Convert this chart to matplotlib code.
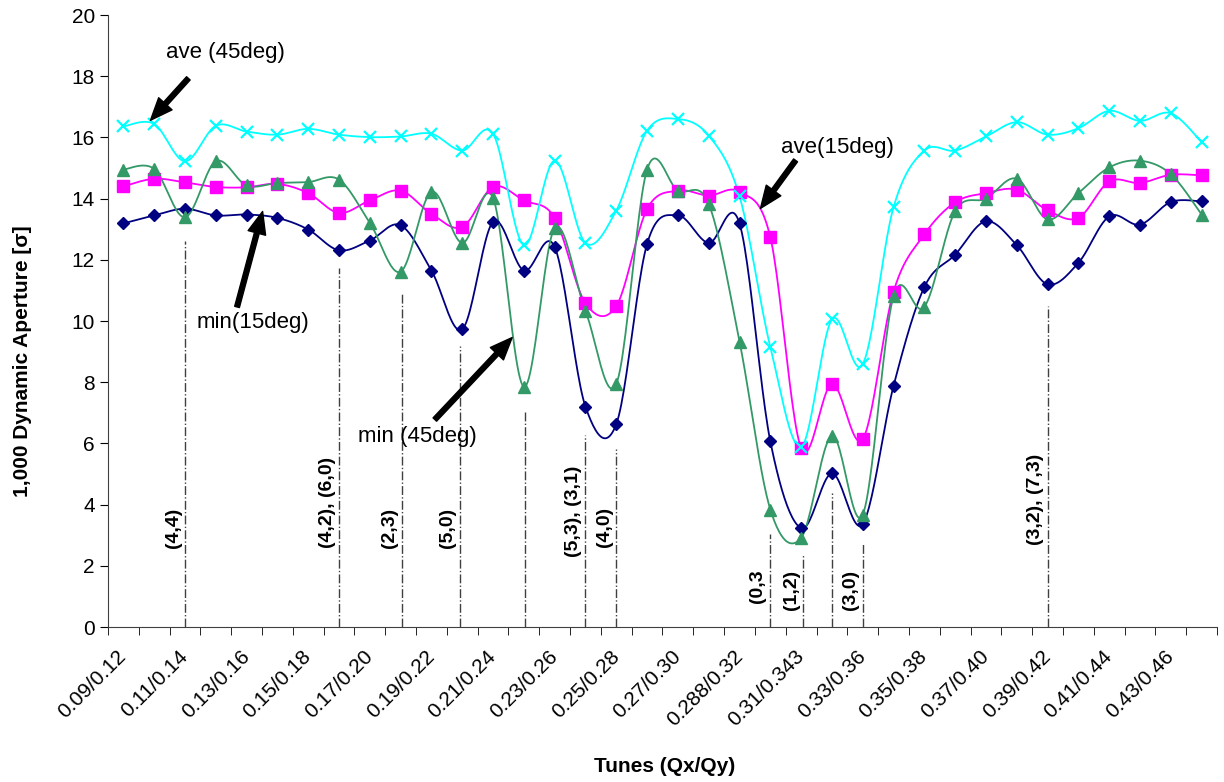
import numpy as np
import matplotlib
matplotlib.use("Agg")
import matplotlib.pyplot as plt
import matplotlib.transforms as mtransforms

plt.rcParams['font.family'] = ['Liberation Sans', 'DejaVu Sans']

# tune labels (every second working point is labelled)
tune_labels = ["0.09/0.12", "0.11/0.14", "0.13/0.16", "0.15/0.18", "0.17/0.20",
               "0.19/0.22", "0.21/0.24", "0.23/0.26", "0.25/0.28", "0.27/0.30",
               "0.288/0.32", "0.31/0.343", "0.33/0.36", "0.35/0.38", "0.37/0.40",
               "0.39/0.42", "0.41/0.44", "0.43/0.46"]
n_points = 36

# dynamic aperture in sigma
ave_45 = [16.36, 16.44, 15.22, 16.38, 16.19, 16.09, 16.28, 16.09, 16.01, 16.03, 16.12, 15.57,
          16.12, 12.48, 15.24, 12.55, 13.61, 16.22, 16.60, 16.06, 14.08, 9.15, 5.89, 10.05,
          8.59, 13.72, 15.57, 15.57, 16.03, 16.50, 16.09, 16.30, 16.87, 16.54, 16.79, 15.85]
ave_15 = [14.40, 14.65, 14.53, 14.38, 14.37, 14.48, 14.18, 13.53, 13.94, 14.26, 13.50, 13.07,
          14.38, 13.94, 13.37, 10.58, 10.49, 13.66, 14.26, 14.10, 14.22, 12.74, 5.85, 7.94,
          6.14, 10.96, 12.83, 13.88, 14.18, 14.29, 13.62, 13.37, 14.56, 14.51, 14.78, 14.76]
min_45 = [14.95, 14.97, 13.39, 15.22, 14.43, 14.51, 14.54, 14.62, 13.21, 11.61, 14.22, 12.55,
          14.02, 7.85, 13.04, 10.33, 7.94, 14.95, 14.26, 13.83, 9.33, 3.84, 2.91, 6.25,
          3.67, 10.82, 10.46, 13.59, 14.00, 14.65, 13.32, 14.18, 15.02, 15.24, 14.80, 13.48]
min_15 = [13.19, 13.45, 13.67, 13.45, 13.48, 13.37, 12.99, 12.31, 12.63, 13.13, 11.65, 9.73,
          13.24, 11.65, 12.42, 7.20, 6.63, 12.52, 13.45, 12.55, 13.19, 6.07, 3.23, 5.02,
          3.37, 7.88, 11.11, 12.17, 13.26, 12.48, 11.20, 11.90, 13.42, 13.15, 13.89, 13.91]

# resonance lines: position, top of line, label, label bottom
res_x = [2.0, 7.0, 9.03, 10.92, 13.03, 15.0, 16.0, 20.98, 22.06, 23.0, 24.0, 30.0]
res_top = [12.6, 11.74, 10.87, 9.19, 7.09, 6.28, 5.82, 3.05, 2.34, 4.37, 2.74, 10.49]
res_labels = ["(4,4)", "(4,2), (6,0)", "(2,3)", "(5,0)", "", "(5,3), (3,1)", "(4,0)",
              "(0,3", "(1,2)", "", "(3,0)", "(3,2), (7,3)"]
res_label_y = [2.57, 2.57, 2.57, 2.57, 0, 2.28, 2.61, 0.77, 0.54, 0, 0.54, 2.67]


def smooth(y, steps=24):
    # Catmull-Rom style bezier through the points, like a smoothed line chart
    y = np.asarray(y, dtype=float)
    x = np.arange(len(y), dtype=float)
    pts = np.column_stack([x, y])
    out = []
    for i in range(len(pts) - 1):
        p0 = pts[i - 1] if i > 0 else pts[i]
        p1 = pts[i]
        p2 = pts[i + 1]
        p3 = pts[i + 2] if i + 2 < len(pts) else pts[i + 1]
        c1 = p1 + (p2 - p0) / 6.0
        c2 = p2 - (p3 - p1) / 6.0
        t = np.linspace(0, 1, steps, endpoint=False)[:, None]
        seg = ((1 - t) ** 3) * p1 + 3 * ((1 - t) ** 2) * t * c1 + 3 * (1 - t) * t ** 2 * c2 + t ** 3 * p2
        out.append(seg)
    out.append(pts[-1:])
    out = np.vstack(out)
    return out[:, 0], out[:, 1]


fig = plt.figure(figsize=(12.24, 7.82), dpi=100)
ax = fig.add_axes([0.0882, 0.1982, 0.9061, 0.7826])

x = np.arange(n_points)
series = [
    (min_15, "#000080", "D", 6, 1.0),
    (ave_15, "#FF00FF", "s", 8, 1.0),
    (min_45, "#339966", "^", 8, 1.0),
    (ave_45, "#00FFFF", "x", 8, 1.6),
]
for vals, col, mk, ms, mew in series:
    sx, sy = smooth(vals)
    ax.plot(sx, sy, color=col, lw=1.3, zorder=3)
    ax.plot(x, vals, linestyle="none", marker=mk, markersize=ms, color=col,
            markeredgewidth=mew, zorder=4)

# resonance lines
for rx, rt, lab, ly in zip(res_x, res_top, res_labels, res_label_y):
    ax.plot([rx, rx], [0, rt], color="#404040", lw=1.0, linestyle="-.", zorder=2)
    if lab:
        ax.annotate(lab, xy=(rx, ly), xytext=(-8.5, 0), textcoords="offset points",
                    rotation=90, ha="center", va="bottom", fontsize=14,
                    fontweight="bold")

# arrows with labels
arrow_kw = dict(facecolor="black", edgecolor="black", width=3.5, headwidth=13,
                headlength=16, shrink=0)
notes = [
    ("ave (45deg)", (3.31, 18.78), (2.11, 17.93), (0.88, 16.56)),
    ("ave(15deg)", (23.18, 15.68), (21.82, 15.25), (20.68, 13.68)),
    ("min(15deg)", (4.19, 9.95), (3.69, 10.46), (4.52, 13.58)),
    ("min (45deg)", (9.55, 6.23), (10.11, 6.78), (12.62, 9.46)),
]
for txt, tpos, tail, tip in notes:
    ax.text(tpos[0], tpos[1], txt, fontsize=16, ha="center", va="center", zorder=5)
    ax.annotate("", xy=tip, xytext=tail, arrowprops=arrow_kw, zorder=5)

ax.set_xlim(-0.5, n_points - 0.5)
ax.set_ylim(0, 20)
ax.set_yticks(np.arange(0, 21, 2))
ax.set_xticks(np.arange(0, n_points, 2))
ax.set_xticklabels(tune_labels, rotation=45, ha="right", va="center",
                   rotation_mode="anchor", fontsize=15)
# nudge the slanted labels a little to the left
shift = mtransforms.ScaledTranslation(-5 / 100, 0, fig.dpi_scale_trans)
for lbl in ax.get_xticklabels():
    lbl.set_transform(lbl.get_transform() + shift)
ax.set_xticks(np.arange(-0.5, n_points, 1), minor=True)
ax.tick_params(axis="x", which="major", length=0, pad=19)
ax.tick_params(axis="x", which="minor", length=6, direction="out")
ax.tick_params(axis="y", length=6, direction="out", labelsize=15)

for s in ["top", "right"]:
    ax.spines[s].set_visible(False)
for s in ["left", "bottom"]:
    ax.spines[s].set_color("#404040")

fig.text(0.5433, 0.02, "Tunes (Qx/Qy)", ha="center", va="center",
         fontsize=15, fontweight="bold")
fig.text(0.018, 0.538, "1,000 Dynamic Aperture [σ]", ha="center", va="center",
         rotation=90, fontsize=15, fontweight="bold")

fig.savefig("out.png", dpi=100)
